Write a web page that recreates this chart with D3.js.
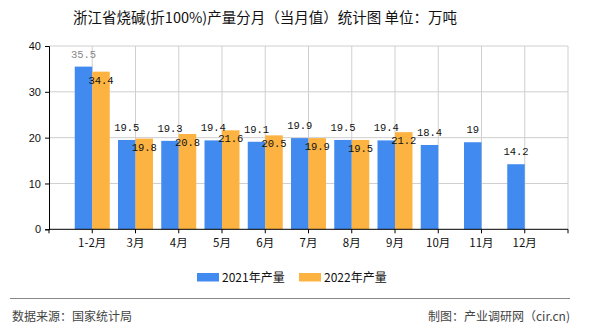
<!DOCTYPE html>
<html><head><meta charset="utf-8">
<script src="https://cdn.jsdelivr.net/npm/d3@7/dist/d3.min.js"></script>
<style>body{margin:0;background:#fff}svg{display:block}</style>
</head><body>
<svg id="c" width="590" height="330"></svg>
<script>
const categories = ["1-2月","3月","4月","5月","6月","7月","8月","9月","10月","11月","12月"];
const values2021 = [35.5,19.5,19.3,19.4,19.1,19.9,19.5,19.4,18.4,19,14.2];
const values2022 = [34.4,19.8,20.8,21.6,20.5,19.9,19.5,21.2,null,null,null];
const seriesNames = ["2021年产量","2022年产量"];
const yTicks = [0,10,20,30,40];
const title = "浙江省烧碱(折100%)产量分月（当月值）统计图 单位：万吨";
const source = "数据来源：国家统计局";
const credit = "制图：产业调研网（cir.cn)";

const blue = "#418AEF", orange = "#FDB342";
const svg = d3.select("#c");
const L = 49, R = 568, T = 46, B = 229.3;
const cjk = "'Noto Sans CJK SC','Noto Sans',sans-serif";

const x = d3.scalePoint().domain(categories).range([L, R]).padding(1);
const step = x.step();
const y = d3.scaleLinear().domain([0, 40]).range([B, T]);
const bw = 17.5;

// title
svg.append("text").attr("x", 265).attr("y", 23).attr("text-anchor", "middle")
  .attr("font-family", cjk).attr("font-size", 14.5).attr("fill", "#111").text(title);

// grid
const g = svg.append("g");
g.selectAll("line.h").data(yTicks.filter(d => d > 0)).join("line")
  .attr("x1", L).attr("x2", R).attr("y1", d => y(d)).attr("y2", d => y(d))
  .attr("stroke", "#cfcfcf").attr("stroke-width", 1);
const vIdx = d3.range(1, categories.length + 2);
g.selectAll("line.v").data(vIdx).join("line")
  .attr("x1", i => L + i * step).attr("x2", i => L + i * step)
  .attr("y1", T).attr("y2", B).attr("stroke", "#cfcfcf").attr("stroke-width", 1);

// bars
const idx = d3.range(categories.length);
svg.append("g").selectAll("rect").data(idx).join("rect")
  .attr("x", i => x(categories[i]) - bw).attr("width", bw)
  .attr("y", i => y(values2021[i])).attr("height", i => B - y(values2021[i]))
  .attr("fill", blue);
svg.append("g").selectAll("rect").data(idx.filter(i => values2022[i] != null)).join("rect")
  .attr("x", i => x(categories[i])).attr("width", bw)
  .attr("y", i => y(values2022[i])).attr("height", i => B - y(values2022[i]))
  .attr("fill", orange);

// axes
const yAxis = svg.append("g").attr("transform", `translate(${L},0)`)
  .call(d3.axisLeft(y).tickValues(yTicks).tickSize(4).tickPadding(4));
yAxis.select(".domain").attr("stroke", "#000");
yAxis.selectAll("text").attr("font-family", "'Liberation Sans',Arial,sans-serif").attr("font-size", 11).attr("fill", "#111");

svg.append("line").attr("x1", L).attr("x2", R).attr("y1", B).attr("y2", B).attr("stroke", "#000");
svg.append("g").selectAll("line").data(d3.range(0, categories.length + 2)).join("line")
  .attr("x1", i => L + i * step).attr("x2", i => L + i * step)
  .attr("y1", B).attr("y2", B + 4).attr("stroke", "#000");
svg.append("g").selectAll("text").data(categories).join("text")
  .attr("x", d => x(d)).attr("y", 247).attr("text-anchor", "middle")
  .attr("font-family", cjk).attr("font-size", 11.5).attr("fill", "#111").text(d => d);

// labels
const lf = "'Liberation Mono','DejaVu Sans Mono',monospace";
svg.append("g").selectAll("text").data(idx).join("text")
  .attr("x", i => x(categories[i]) - bw / 2).attr("y", i => y(values2021[i]) - 9)
  .attr("text-anchor", "middle").attr("font-family", lf).attr("font-size", 10.5)
  .attr("fill", i => i === 0 ? "#888" : "#111").text(i => values2021[i]);
svg.append("g").selectAll("text").data(idx.filter(i => values2022[i] != null)).join("text")
  .attr("x", i => x(categories[i]) + bw / 2).attr("y", i => y(values2022[i]) + 12)
  .attr("text-anchor", "middle").attr("font-family", lf).attr("font-size", 10.5)
  .attr("fill", "#111").text(i => values2022[i]);

// legend
const leg = [{n: seriesNames[0], c: blue, x: 197}, {n: seriesNames[1], c: orange, x: 299}];
const lg = svg.append("g").selectAll("g").data(leg).join("g");
lg.append("rect").attr("x", d => d.x).attr("y", 273).attr("width", 22).attr("height", 8.5).attr("fill", d => d.c);
lg.append("text").attr("x", d => d.x + 25).attr("y", 281.5).attr("font-family", cjk)
  .attr("font-size", 12).attr("fill", "#111").text(d => d.n);

// footer
svg.append("line").attr("x1", 10).attr("x2", 570).attr("y1", 298.5).attr("y2", 298.5)
  .attr("stroke", "#888").attr("stroke-width", 1.2);
svg.append("text").attr("x", 12).attr("y", 321).attr("font-family", cjk).attr("font-size", 12)
  .attr("fill", "#444").text(source);
svg.append("text").attr("x", 570).attr("y", 321).attr("text-anchor", "end").attr("font-family", cjk)
  .attr("font-size", 12).attr("fill", "#444").text(credit);
</script>
</body></html>
